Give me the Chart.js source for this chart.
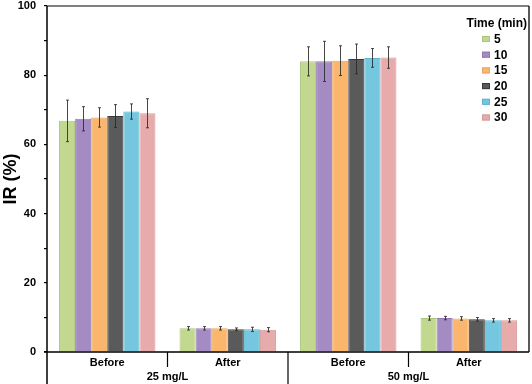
<!DOCTYPE html>
<html>
<head>
<meta charset="utf-8">
<script src="https://cdn.jsdelivr.net/npm/chart.js@4.4.0/dist/chart.umd.min.js"></script>
<style>
  html, body { margin: 0; padding: 0; background: #fff; }
  #wrap { width: 532px; height: 384px; }
</style>
</head>
<body>
<div id="wrap"><canvas id="myChart" width="532" height="384"></canvas></div>
<script>
// categories
var labels = ["Before", "After", "Before", "After"];
var groups = ["25 mg/L", "50 mg/L"];
var times = ["5", "10", "15", "20", "25", "30"];

// IR (%) per time, in category order
var t5  = [66.8, 6.85, 84.0, 9.8];
var t10 = [67.4, 6.85, 84.0, 9.8];
var t15 = [67.8, 6.85, 84.2, 9.7];
var t20 = [68.2, 6.55, 84.7, 9.45];
var t25 = [69.5, 6.55, 85.0, 9.15];
var t30 = [69.0, 6.45, 85.1, 9.15];

// error bars (+/-)
var e5  = [6.0, 0.5, 4.2, 0.6];
var e10 = [3.5, 0.5, 5.8, 0.5];
var e15 = [2.8, 0.5, 4.3, 0.5];
var e20 = [3.3, 0.4, 4.3, 0.5];
var e25 = [2.2, 0.6, 2.7, 0.5];
var e30 = [4.2, 0.6, 3.1, 0.5];

var yTicks = [0, 20, 40, 60, 80, 100];

var fills = ["#c2d88f", "#a58bc4", "#fbb66e", "#5a5a5a", "#74c7de", "#e7abab"];
var edges = ["#aac47a", "#9279b3", "#e9a45e", "#3a3a3a", "#5fb4cc", "#d69a9a"];

var series = [t5, t10, t15, t20, t25, t30];
var errs = [e5, e10, e15, e20, e25, e30];

var FONT = "'Liberation Sans', Arial, sans-serif";

var datasets = times.map(function (t, i) {
    return {
        label: t,
        data: series[i],
        backgroundColor: fills[i],
        borderColor: edges[i],
        borderWidth: 1,
        barPercentage: 1.0,
        categoryPercentage: 0.8
    };
});

var extras = {
    id: 'extras',
    afterDatasetsDraw: function (chart) {
        var ctx = chart.ctx;
        var ys = chart.scales.y;
        ctx.save();
        ctx.strokeStyle = "rgba(40,40,40,0.85)";
        ctx.lineWidth = 1;
        chart.data.datasets.forEach(function (ds, i) {
            var meta = chart.getDatasetMeta(i);
            meta.data.forEach(function (bar, j) {
                var v = ds.data[j], e = errs[i][j];
                var x = Math.round(bar.x) + 0.5;
                var top = ys.getPixelForValue(v + e);
                var bot = ys.getPixelForValue(v - e);
                ctx.beginPath();
                ctx.moveTo(x, top); ctx.lineTo(x, bot);
                ctx.moveTo(x - 1.5, top); ctx.lineTo(x + 1.5, top);
                ctx.moveTo(x - 1.5, bot); ctx.lineTo(x + 1.5, bot);
                ctx.stroke();
            });
        });
        ctx.restore();
    },
    afterDraw: function (chart) {
        var ctx = chart.ctx;
        var a = chart.chartArea;
        var H = chart.height;
        var xs = chart.scales.x;
        ctx.save();

        // top and right frame
        ctx.strokeStyle = "#555";
        ctx.lineWidth = 1.5;
        ctx.beginPath();
        ctx.moveTo(a.left, a.top); ctx.lineTo(a.right, a.top);
        ctx.stroke();
        ctx.strokeStyle = "#222";
        ctx.beginPath();
        ctx.moveTo(a.right, a.top); ctx.lineTo(a.right, a.bottom);
        ctx.stroke();

        // axes
        ctx.strokeStyle = "#000";
        ctx.beginPath();
        ctx.moveTo(a.left, a.top); ctx.lineTo(a.left, H);
        ctx.moveTo(a.left - 3, a.bottom); ctx.lineTo(a.right, a.bottom);
        ctx.stroke();

        // category separators
        var step = (a.right - a.left) / labels.length;
        ctx.lineWidth = 1.2;
        ctx.beginPath();
        for (var k = 1; k < labels.length; k++) {
            var sx = a.left + step * k;
            ctx.moveTo(sx, a.bottom);
            ctx.lineTo(sx, k % 2 === 0 ? H : a.bottom + 15);
        }
        ctx.stroke();

        // group labels
        ctx.fillStyle = "#000";
        ctx.font = "bold 11px " + FONT;
        ctx.textAlign = "center";
        ctx.textBaseline = "middle";
        groups.forEach(function (g, gi) {
            var cx = (xs.getPixelForValue(gi * 2) + xs.getPixelForValue(gi * 2 + 1)) / 2;
            ctx.fillText(g, cx, a.bottom + 25);
        });

        // legend
        ctx.font = "bold 12px " + FONT;
        ctx.textAlign = "right";
        ctx.fillText("Time (min)", 527, 24);
        ctx.textAlign = "left";
        times.forEach(function (t, i) {
            var cy = 39 + i * 15.7;
            ctx.fillStyle = fills[i];
            ctx.fillRect(482, cy - 3, 8, 6);
            ctx.strokeStyle = edges[i];
            ctx.lineWidth = 1;
            ctx.strokeRect(482.5, cy - 2.5, 7, 5);
            ctx.fillStyle = "#000";
            ctx.fillText(t, 494, cy + 0.5);
        });

        ctx.restore();
    }
};

var ctx = document.getElementById("myChart").getContext('2d');
var myChart = new Chart(ctx, {
    type: 'bar',
    data: { labels: labels, datasets: datasets },
    options: {
        responsive: false,
        animation: false,
        layout: { padding: { left: 0, top: 6, right: 3, bottom: 0 } },
        plugins: {
            legend: { display: false },
            tooltip: { enabled: false }
        },
        scales: {
            x: {
                grid: { display: false, drawTicks: false },
                border: { display: false },
                ticks: {
                    color: "#000",
                    font: { family: FONT, size: 11, weight: 'bold' },
                    padding: 4,
                    maxRotation: 0
                },
                afterFit: function (scale) { scale.height = 32; }
            },
            y: {
                min: 0,
                max: 100,
                border: { display: false },
                grid: {
                    drawOnChartArea: false,
                    drawTicks: true,
                    tickLength: 3,
                    color: "#000",
                    lineWidth: 1.2
                },
                ticks: {
                    stepSize: 10,
                    padding: 8,
                    color: "#000",
                    font: { family: FONT, size: 11, weight: 'bold' },
                    callback: function (v) { return yTicks.indexOf(v) >= 0 ? v : ''; }
                },
                title: {
                    display: true,
                    text: "IR (%)",
                    color: "#000",
                    font: { family: FONT, size: 18, weight: 'bold' },
                    padding: { top: 0, bottom: 0 }
                },
                afterFit: function (scale) {
                    scale.width = 47;
                    scale.paddingTop = 0;
                    scale.paddingBottom = 0;
                }
            }
        }
    },
    plugins: [extras]
});
</script>
</body>
</html>
